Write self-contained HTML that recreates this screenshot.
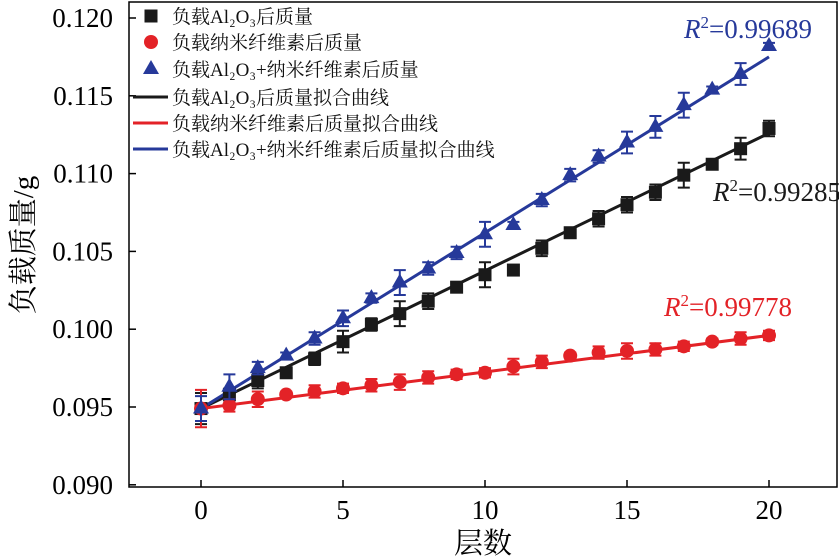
<!DOCTYPE html>
<html><head><meta charset="utf-8"><style>
body{margin:0;background:#fff;}
svg{display:block;font-family:"Liberation Serif","Noto Serif CJK SC",serif;}
</style></head><body>
<svg id="c" width="839" height="557"></svg>
<script>
const layers=[0,1,2,3,4,5,6,7,8,9,10,11,12,13,14,15,16,17,18,19,20];
const alMass=[0.0949,0.0958,0.0967,0.0972,0.0981,0.0992,0.1003,0.1010,0.1018,0.1027,0.1035,0.1038,0.1052,0.1062,0.1071,0.1080,0.1088,0.1099,0.1106,0.1116,0.1129];
const alErr=[0.0010,0.0004,0.0005,0.0002,0.0004,0.0007,0.0004,0.0008,0.0005,0.0003,0.0008,0.0002,0.0005,0.0002,0.0005,0.0005,0.0005,0.0008,0.0002,0.0007,0.0005];
const ncMass=[0.0949,0.0951,0.0955,0.0958,0.0960,0.0962,0.0964,0.0966,0.0969,0.0971,0.0972,0.0976,0.0979,0.0983,0.0985,0.0986,0.0987,0.0989,0.0992,0.0994,0.0996];
const ncErr=[0.0012,0.0004,0.0005,0.0002,0.0004,0.0003,0.0004,0.0005,0.0004,0.0003,0.0003,0.0005,0.0004,0.0002,0.0004,0.0005,0.0004,0.0003,0.0002,0.0004,0.0003];
const bothMass=[0.0949,0.0963,0.0975,0.0983,0.0994,0.1007,0.1020,0.1030,0.1039,0.1049,0.1061,0.1067,0.1083,0.1099,0.1111,0.1120,0.1130,0.1144,0.1154,0.1164,0.1182];
const bothErr=[0.0008,0.0008,0.0004,0.0002,0.0004,0.0005,0.0003,0.0008,0.0004,0.0004,0.0008,0.0002,0.0004,0.0004,0.0004,0.0007,0.0007,0.0008,0.0002,0.0007,0.0002];
const fitStart=[0.0949,0.0949,0.0949];
const fitEnd=[0.1126,0.0996,0.1175];
const xTicks=[0,5,10,15,20];
const yTicks=[0.090,0.095,0.100,0.105,0.110,0.115,0.120];
const r2Labels=["0.99285","0.99778","0.99689"];
const legendLabels=["负载Al₂O₃后质量","负载纳米纤维素后质量","负载Al₂O₃+纳米纤维素后质量","负载Al₂O₃后质量拟合曲线","负载纳米纤维素后质量拟合曲线","负载Al₂O₃+纳米纤维素后质量拟合曲线"];

const NS="http://www.w3.org/2000/svg",svg=document.getElementById('c');
const X=v=>201+v*28.4, Y=v=>407-(v-0.095)*15560;
function mk(t,a,p){const e=document.createElementNS(NS,t);for(const k in a)e.setAttribute(k,a[k]);(p||svg).appendChild(e);return e;}
const L=129,R=837,T=2,B=487;
const frame=mk('rect',{x:L,y:T,width:R-L,height:B-T,fill:'none',stroke:'#000','stroke-width':1.5});


xTicks.forEach(v=>{
 const t=mk('line',{x1:X(v),x2:X(v),y1:B,y2:B-7,stroke:'#000','stroke-width':1.5});
 
 
 const l=mk('text',{x:X(v),y:519,'text-anchor':'middle','font-size':27});l.textContent=v;
 
 
});
yTicks.forEach(v=>{
 const t=mk('line',{x1:L,x2:L+7,y1:Y(v),y2:Y(v),stroke:'#000','stroke-width':1.5});
 
 
 const l=mk('text',{x:113,y:Y(v)+9,'text-anchor':'end','font-size':27});l.textContent=v.toFixed(3);
 
 
});
const xt=mk('text',{x:483,y:553,'text-anchor':'middle','font-size':29});xt.textContent='层数';


const yt=mk('text',{x:0,y:0,'text-anchor':'middle','font-size':29,transform:'translate(33,245) rotate(-90)'});yt.textContent='负载质量/g';



const colors=['#1a1a1a','#e32227','#26399a'];
const series=[[alMass,alErr],[ncMass,ncErr],[bothMass,bothErr]];
function marker(k,x,y,p){
 if(k===0)return mk('rect',{x:x-6.5,y:y-6.5,width:13,height:13,fill:colors[0]},p);
 if(k===1)return mk('circle',{cx:x,cy:y,r:7,fill:colors[1]},p);
 return mk('path',{d:`M${x},${y-9}L${x+8},${y+5}L${x-8},${y+5}Z`,fill:colors[2]},p);
}
[0,1,2].forEach(k=>{
 const fl=mk('line',{x1:X(0),y1:Y(fitStart[k]),x2:X(20),y2:Y(fitEnd[k]),stroke:colors[k],'stroke-width':3});
 
 
});
[0,1,2].forEach(k=>{
 const g=mk('g',{});
 
 
 const [m,e]=series[k];
 layers.forEach((x,i)=>{
  const px=X(x),y1=Y(m[i]+e[i]),y2=Y(m[i]-e[i]);
  const eb=mk('path',{d:`M${px},${y1}V${y2}M${px-6},${y1}H${px+6}M${px-6},${y2}H${px+6}`,stroke:colors[k],'stroke-width':2,fill:'none'},g);
  
  
  const mm=marker(k,px,Y(m[i]),g);
  
  
 });
});
const r2pos=[[713,201],[664,316],[684,38]];
[0,1,2].forEach(k=>{
 const t=mk('text',{x:r2pos[k][0],y:r2pos[k][1],'font-size':27,fill:colors[k]});
 t.innerHTML=`<tspan font-style="italic">R</tspan><tspan font-size="17" dy="-10">2</tspan><tspan dy="10">=${r2Labels[k]}</tspan>`;
 
 
});
const rowsY=[23,49,76,104,130,156];
legendLabels.forEach((s,i)=>{
 const g=mk('g',{});
 
 
 const y=rowsY[i];
 if(i<3){marker(i,151,y-7,g);}
 else mk('line',{x1:133,x2:168,y1:y-7,y2:y-7,stroke:colors[i-3],'stroke-width':3},g);
 const t=mk('text',{x:172,y:y,'font-size':19,fill:'#111'},g);t.textContent=s;
});
</script>
</body></html>
